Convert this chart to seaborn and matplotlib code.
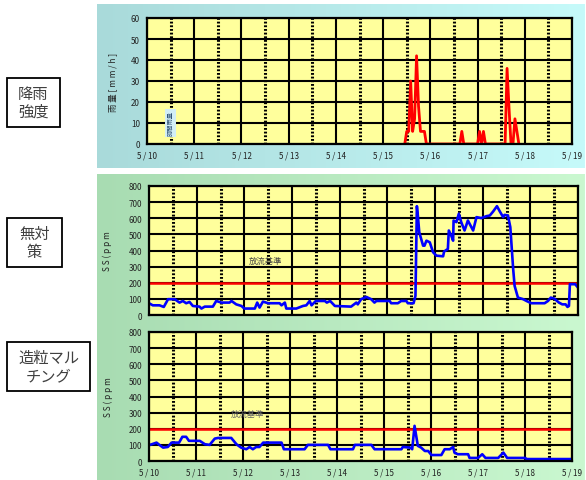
import numpy as np
import pandas as pd
import matplotlib.pyplot as plt
import seaborn as sns
from matplotlib.patches import Rectangle
from matplotlib.colors import LinearSegmentedColormap

# x values are days elapsed since 5/10 00:00
day_labels = ['5/10', '5/11', '5/12', '5/13', '5/14', '5/15', '5/16', '5/17', '5/18', '5/19']

# hourly rainfall (mm/h), hours since 5/10 00:00
rain_hour = [131, 132, 133, 134, 135, 136, 137, 138, 139, 140, 141, 142,
             159, 160, 161, 168, 169, 170, 171, 172,
             182, 183, 184, 185, 186, 187, 188, 189]
rain_mm = [0, 6, 6, 30, 6, 12, 42, 18, 6, 6, 6, 0,
           0, 6, 0, 0, 6, 0, 6, 0,
           0, 36, 17, 0, 0, 12, 6, 0]

# SS without countermeasure (ppm)
ss_none_day = [0, 0.08, 0.22, 0.31, 0.4, 0.54, 0.64, 0.71, 0.78, 0.85, 0.92, 1.06, 1.1, 1.17,
               1.34, 1.41, 1.52, 1.69, 1.73, 1.83, 1.94, 2.0, 2.22, 2.27, 2.32, 2.39, 2.5,
               2.74, 2.78, 2.85, 2.88, 3.09, 3.23, 3.3, 3.37, 3.41, 3.5, 3.69, 3.73, 3.8,
               3.9, 4.24, 4.35, 4.38, 4.45, 4.56, 4.66, 4.73, 4.77, 5.05, 5.08, 5.22, 5.29,
               5.4, 5.43, 5.55, 5.59, 5.62, 5.64, 5.67, 5.75, 5.78, 5.82, 5.89, 5.96, 6.03,
               6.17, 6.19, 6.27, 6.29, 6.34, 6.38, 6.39, 6.45, 6.5, 6.55, 6.62, 6.69, 6.8,
               6.87, 6.97, 7.08, 7.15, 7.22, 7.3, 7.36, 7.43, 7.46, 7.53, 7.58, 7.64, 7.67,
               7.74, 7.85, 7.92, 8.02, 8.3, 8.37, 8.43, 8.5, 8.6, 8.67, 8.74, 8.78, 8.81,
               8.83, 8.94, 9.0]
ss_none = [73, 60, 60, 50, 98, 98, 77, 87, 73, 81, 56, 52, 40, 52,
           52, 87, 77, 77, 87, 66, 56, 40, 40, 77, 46, 83, 73,
           73, 60, 77, 40, 40, 56, 60, 87, 60, 87, 87, 77, 87,
           56, 52, 77, 66, 98, 112, 98, 77, 87, 87, 73, 73, 87,
           87, 73, 73, 118, 675, 617, 513, 430, 430, 461, 451, 389, 368,
           364, 393, 410, 524, 493, 461, 586, 576, 628, 576, 524, 586, 524,
           607, 601, 613, 617, 642, 675, 642, 607, 621, 617, 545, 285, 181,
           108, 98, 87, 73, 73, 87, 108, 102, 77, 66, 66, 50, 56,
           191, 191, 170]

# SS with granulated mulching (ppm)
ss_mulch_day = [0, 0.16, 0.23, 0.3, 0.4, 0.48, 0.64, 0.71, 0.79, 0.85, 1.08, 1.19, 1.29, 1.4,
                1.47, 1.75, 1.86, 1.96, 2.07, 2.14, 2.21, 2.28, 2.35, 2.43, 2.82, 2.87, 3.31,
                3.38, 3.81, 3.86, 4.34, 4.38, 4.73, 4.8, 5.37, 5.4, 5.56, 5.6, 5.65, 5.72,
                5.79, 5.87, 5.94, 6.01, 6.22, 6.29, 6.4, 6.47, 6.5, 6.57, 6.79, 6.82, 7.0,
                7.09, 7.16, 7.43, 7.54, 7.62, 8.0, 8.04, 9.0]
ss_mulch = [98, 114, 98, 83, 87, 114, 114, 150, 150, 125, 125, 104, 100, 139,
            143, 143, 104, 83, 73, 87, 73, 87, 87, 114, 114, 73, 73,
            100, 100, 73, 73, 100, 100, 73, 73, 87, 83, 73, 218, 94,
            83, 62, 62, 37, 37, 73, 73, 87, 52, 42, 42, 19, 19,
            42, 19, 19, 52, 19, 19, 12, 12]

limit_ppm = 200

rain_df = pd.DataFrame({'day': np.array(rain_hour) / 24.0, 'mm': rain_mm})
none_df = pd.DataFrame({'day': ss_none_day, 'ss': ss_none})
mulch_df = pd.DataFrame({'day': ss_mulch_day, 'ss': ss_mulch})

sns.set_theme(style='white')
plt.rcParams['font.family'] = ['Noto Sans CJK JP', 'DejaVu Sans']

W, H = 586, 481
fig = plt.figure(figsize=(W / 100, H / 100), dpi=100)


def px_rect(x0, y0, x1, y1):
    return [x0 / W, 1 - y1 / H, (x1 - x0) / W, (y1 - y0) / H]


def backdrop(rect, c_left, c_right):
    bg = fig.add_axes(px_rect(*rect), zorder=0)
    grad = np.linspace(0, 1, 256).reshape(1, -1)
    cmap = LinearSegmentedColormap.from_list('bg', [c_left, c_right])
    bg.imshow(grad, aspect='auto', cmap=cmap, extent=[0, 1, 0, 1])
    bg.set_axis_off()


backdrop((97, 5, 585, 169), '#a9dada', '#c6fafa')
backdrop((97, 175, 585, 321), '#a8dcb2', '#caf8d0')
backdrop((97, 321, 585, 481), '#a8dcb2', '#caf8d0')


def style_axes(ax, ymax, ystep, show_x):
    ax.set_facecolor('#ffff9c')
    ax.set_xlim(0, 9)
    ax.set_ylim(0, ymax)
    ax.set_xticks(range(10))
    ax.set_yticks(range(0, ymax + 1, ystep))
    ax.set_xticklabels([d.replace('/', ' / ') for d in day_labels] if show_x else [])
    ax.tick_params(length=0, labelsize=5.8, colors='#222222', pad=5)
    ax.grid(True, color='black', lw=1.5)
    for d in range(9):
        ax.axvline(d + 0.5, color='black', lw=2.2, ls=(0, (0.6, 0.6)), zorder=1.5)
    for s in ax.spines.values():
        s.set_color('black')
        s.set_linewidth(1.6)
        s.set_zorder(5)
    ax.set_axisbelow(True)


# rainfall
ax1 = fig.add_axes(px_rect(147, 19, 572, 145), zorder=2)
style_axes(ax1, 60, 10, True)
sns.lineplot(data=rain_df, x='day', y='mm', ax=ax1, color='#ff0000', lw=2,
             estimator=None, sort=False, zorder=3)
ax1.set_xlabel('')
ax1.set_ylabel('雨 量 [ m m / h ]', fontsize=6, color='#222222')
ax1.yaxis.set_label_coords(-0.07, 0.5)
ax1.text(0.5, 10, '時間雨量', rotation=90, fontsize=4.5, color='#335577',
         ha='center', va='center', zorder=4,
         bbox=dict(boxstyle='square,pad=0.2', fc='#d2eef6', ec='none'))

# no countermeasure
ax2 = fig.add_axes(px_rect(149, 187, 578, 316), zorder=2)
style_axes(ax2, 800, 100, False)
ax2.axhline(limit_ppm, color='#ff0000', lw=1.8, zorder=3)
sns.lineplot(data=none_df, x='day', y='ss', ax=ax2, color='#0000ff', lw=1.9,
             estimator=None, sort=False, zorder=4)
ax2.set_xlabel('')
ax2.set_ylabel('S S ( p p m', fontsize=6, color='#222222')
ax2.yaxis.set_label_coords(-0.086, 0.5)
ax2.text(2.45, 340, '放流基準', fontsize=6, color='#444444', ha='center', va='center', zorder=1.4)

# granulated mulching
ax3 = fig.add_axes(px_rect(149, 333, 572, 462), zorder=3)
style_axes(ax3, 800, 100, True)
ax3.axhline(limit_ppm, color='#ff0000', lw=1.8, zorder=3)
sns.lineplot(data=mulch_df, x='day', y='ss', ax=ax3, color='#0000ff', lw=1.9,
             estimator=None, sort=False, zorder=4)
ax3.set_xlabel('')
ax3.set_ylabel('S S ( p p m', fontsize=6, color='#222222')
ax3.yaxis.set_label_coords(-0.086, 0.5)
ax3.text(2.1, 295, '放流基準', fontsize=6, color='#666666', ha='center', va='center', zorder=1.4)

# side labels in boxes
boxes = [((7, 79, 60, 128), '降雨\n強度'),
         ((7, 219, 62, 268), '無対\n策'),
         ((7, 343, 90, 392), '造粒マル\nチング')]
for (x0, y0, x1, y1), label in boxes:
    r = px_rect(x0, y0, x1, y1)
    fig.patches.append(Rectangle((r[0], r[1]), r[2], r[3], transform=fig.transFigure,
                                 fill=False, ec='black', lw=1.3))
    fig.text(r[0] + r[2] / 2, r[1] + r[3] / 2, label, ha='center', va='center',
             fontsize=11, color='#404040', linespacing=1.1)

fig.savefig('out.png', dpi=100)
